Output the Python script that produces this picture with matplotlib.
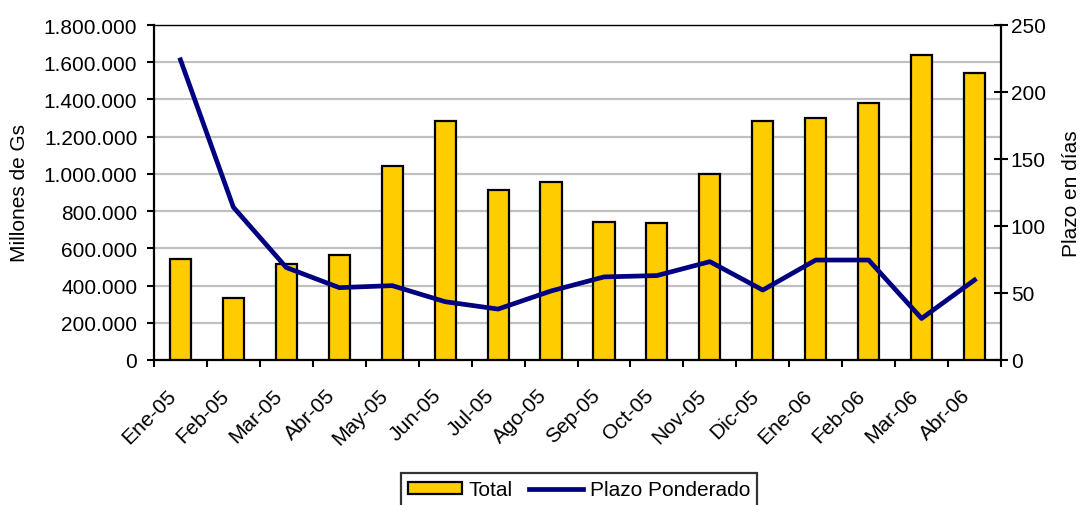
import matplotlib
matplotlib.use("Agg")
import matplotlib.pyplot as plt
from matplotlib.ticker import FuncFormatter, MultipleLocator
from matplotlib.patches import Patch
from matplotlib.lines import Line2D
import numpy as np

categories = ["Ene-05", "Feb-05", "Mar-05", "Abr-05", "May-05", "Jun-05", "Jul-05", "Ago-05",
              "Sep-05", "Oct-05", "Nov-05", "Dic-05", "Ene-06", "Feb-06", "Mar-06", "Abr-06"]
total = [543000, 333000, 516000, 564000, 1042000, 1284000, 915000, 955000,
         740000, 738000, 999000, 1282000, 1300000, 1379000, 1639000, 1544000]
plazo = [224, 114, 69, 54, 55.5, 43.5, 38, 51.5, 62, 63, 73.4, 52.2, 74.6, 74.6, 31, 59.7]

plt.rcParams['font.family'] = ['Liberation Sans', 'DejaVu Sans']
FS = 15

W, H = 1083, 506
L, R, T, B = 154, 1001, 26, 361
fig = plt.figure(figsize=(W/100, H/100), dpi=100)
ax = fig.add_axes([L/W, 1 - B/H, (R-L)/W, (B-T)/H])
x = np.arange(len(categories))

ax.bar(x, total, width=0.4, color="#FFCC00", edgecolor="black", linewidth=1.6, zorder=3)
ax.set_xlim(-0.5, len(categories) - 0.5)
ax.set_ylim(0, 1800000)
ax.yaxis.set_major_locator(MultipleLocator(200000))
ax.yaxis.set_major_formatter(FuncFormatter(lambda v, p: f"{int(v):,}".replace(",", ".")))
ax.grid(axis="y", color="#C0C0C0", linewidth=1.6, zorder=0)
ax.set_axisbelow(True)
ax.set_xticks(np.arange(len(categories) + 1) - 0.5, minor=False)
ax.set_xticklabels([])
# label anchors slightly left of the category centre, as in the original
ax.set_xticks(x - 0.13, minor=True)
ax.set_xticklabels(categories, minor=True, rotation=45, ha="right", va="center",
                   rotation_mode="anchor", fontsize=FS)
ax.tick_params(axis="x", which="minor", length=0, pad=23)
ax.tick_params(axis="x", which="major", length=5, width=1.5, direction="out")
ax.tick_params(axis="y", length=5, width=1.5, labelsize=FS, pad=7, direction="out")
ax.set_ylabel("Millones de Gs", fontsize=FS)
ax.yaxis.set_label_coords((20 - L)/(R - L), 0.5)
ax.yaxis.label.set_verticalalignment("center")
for s in ["left", "bottom"]:
    ax.spines[s].set_linewidth(1.6)
ax.spines["top"].set_linewidth(1.0)
ax.spines["right"].set_visible(False)

ax2 = ax.twinx()
ax2.plot(x, plazo, color="#000080", linewidth=3.4, zorder=4)
ax2.set_ylim(0, 250)
ax2.yaxis.set_major_locator(MultipleLocator(50))
ax2.tick_params(axis="y", length=10, width=1.5, labelsize=FS, pad=2, direction="inout")
ax2.set_ylabel("Plazo en días", fontsize=FS)
ax2.yaxis.set_label_coords((1072 - L)/(R - L), 0.5)
ax2.yaxis.label.set_verticalalignment("center")
ax2.spines["right"].set_linewidth(1.6)
for s in ["left", "top", "bottom"]:
    ax2.spines[s].set_visible(False)

handles = [Patch(facecolor="#FFCC00", edgecolor="black", linewidth=1.6),
           Line2D([0], [0], color="#000080", linewidth=3.4)]
leg = fig.legend(handles, ["Total", "Plazo Ponderado"], loc="center",
                 bbox_to_anchor=(579/W, 1 - 491/H), ncol=2, fontsize=FS,
                 frameon=True, fancybox=False, edgecolor="black", borderpad=0.35,
                 handlelength=2.6, handleheight=0.55, handletextpad=0.3,
                 columnspacing=0.8, borderaxespad=0)
leg.get_frame().set_linewidth(1.6)

fig.savefig("out.png", dpi=100)
